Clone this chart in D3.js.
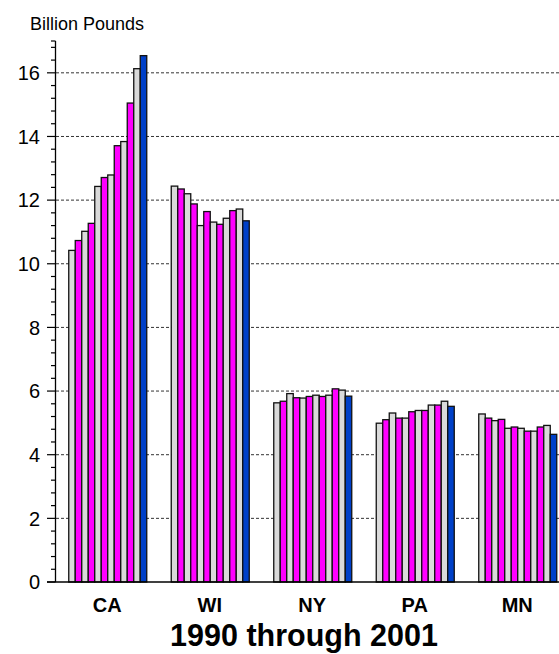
<!DOCTYPE html>
<html><head><meta charset="utf-8">
<script src="https://cdn.jsdelivr.net/npm/d3@7"></script>
<style>body{margin:0;background:#fff}svg{display:block}text{font-family:"Liberation Sans",Arial,sans-serif}</style>
</head><body><svg id="c" width="559" height="654"></svg>
<script>
const states = ["CA","WI","NY","PA","MN"];
const years = ["1990","1991","1992","1993","1994","1995","1996","1997","1998","1999","2000","2001"];
const CA = [10.42,10.73,11.02,11.27,12.43,12.71,12.79,13.71,13.84,15.05,16.13,16.54];
const WI = [12.44,12.35,12.20,11.88,11.20,11.64,11.31,11.24,11.43,11.67,11.72,11.35];
const NY = [5.63,5.68,5.92,5.79,5.78,5.83,5.87,5.83,5.87,6.07,6.03,5.84];
const PA = [4.99,5.10,5.31,5.15,5.15,5.35,5.39,5.39,5.56,5.56,5.68,5.52];
const MN = [5.28,5.15,5.07,5.11,4.83,4.87,4.83,4.74,4.74,4.87,4.92,4.64];
const yTicks = [0,2,4,6,8,10,12,14,16];
const seriesByState = {CA, WI, NY, PA, MN};

const svg = d3.select("#c");
const x0 = d3.scaleBand().domain(states).range([56, 568.5]).paddingInner(0.239).paddingOuter(0.1195);
const x1 = d3.scaleBand().domain(years).range([0, x0.bandwidth()]).padding(0);
const y = d3.scaleLinear().domain([0, 17]).range([582, 41]);
const color = (i) => i === years.length - 1 ? "#0040c8" : (i % 2 === 0 ? "#dadada" : "#ff00ff");

// gridlines
svg.append("g").selectAll("line").data(yTicks.filter(d => d > 0)).join("line")
  .attr("x1", 56).attr("x2", 559).attr("y1", d => y(d)).attr("y2", d => y(d))
  .attr("stroke", "#333").attr("stroke-width", 1).attr("stroke-dasharray", "3,2");

// bars
const groups = svg.append("g").selectAll("g").data(states).join("g")
  .attr("transform", d => `translate(${x0(d)},0)`);
groups.selectAll("rect").data(s => seriesByState[s].map((v, i) => ({v, i}))).join("rect")
  .attr("x", d => x1(years[d.i]) + 0.5)
  .attr("y", d => y(d.v))
  .attr("width", x1.bandwidth())
  .attr("height", d => y(0) - y(d.v))
  .attr("fill", d => color(d.i))
  .attr("stroke", "#111").attr("stroke-width", 1.3);

// y axis
const minor = d3.range(0, 17.01, 0.4).filter(v => Math.abs(v / 2 - Math.round(v / 2)) > 1e-6);
const yAxisG = svg.append("g");
yAxisG.append("line").attr("x1", 55.5).attr("x2", 55.5).attr("y1", y(17)).attr("y2", y(0)).attr("stroke", "#000").attr("stroke-width", 1.3);
yAxisG.selectAll(".mn").data(minor.concat([17])).join("line").attr("class","mn")
  .attr("x1", 51).attr("x2", 55.5).attr("y1", d => y(d)).attr("y2", d => y(d)).attr("stroke", "#000").attr("stroke-width", 1.2);
yAxisG.selectAll(".mj").data(yTicks).join("line").attr("class","mj")
  .attr("x1", 47).attr("x2", 55.5).attr("y1", d => y(d)).attr("y2", d => y(d)).attr("stroke", "#000").attr("stroke-width", 1.2);
yAxisG.selectAll("text").data(yTicks).join("text")
  .attr("x", 40).attr("y", d => y(d)).attr("dy", "0.36em").attr("text-anchor", "end")
  .attr("font-size", 20).attr("fill", "#000").text(d => d);

// x axis line
svg.append("line").attr("x1", 47).attr("x2", 559).attr("y1", y(0)).attr("y2", y(0)).attr("stroke", "#000").attr("stroke-width", 1.3);

// category labels
svg.append("g").selectAll("text").data(states).join("text")
  .attr("x", d => x0(d) + x0.bandwidth() / 2).attr("y", 612).attr("text-anchor", "middle")
  .attr("font-size", 20).attr("font-weight", "bold").text(d => d);

svg.append("text").attr("x", 30).attr("y", 30).attr("font-size", 18).text("Billion Pounds");
svg.append("text").attr("x", 304).attr("y", 646).attr("text-anchor", "middle").attr("font-size", 30.5).attr("font-weight", "bold").text("1990 through 2001");
</script></body></html>
